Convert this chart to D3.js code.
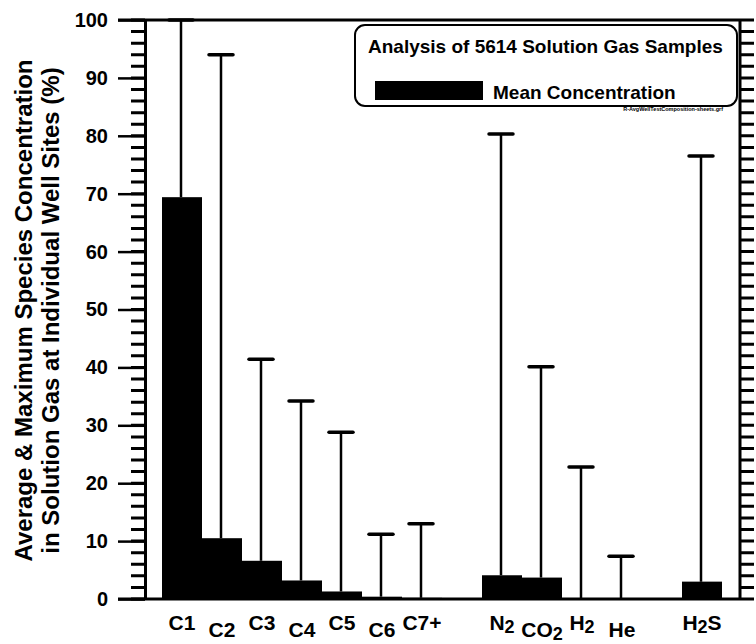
<!DOCTYPE html>
<html>
<head>
<meta charset="utf-8">
<script src="https://cdn.jsdelivr.net/npm/d3@7"></script>
<style>
  body { margin: 0; background: #fff; }
  svg { display: block; font-family: "Liberation Sans", Arial, sans-serif; font-weight: bold; }
</style>
</head>
<body>
<script>
const width = 756,
    height = 644;

// species grouped as on the original plot (a blank slot separates groups)
const hydrocarbons = ['C1', 'C2', 'C3', 'C4', 'C5', 'C6', 'C7+'];
const inerts = ['N2', 'CO2', 'H2', 'He'];
const sour = ['H2S'];

// mean and maximum concentration (%), same order as species
const species = [...hydrocarbons, ...inerts, ...sour];
const meanPct = [69.4, 10.5, 6.6, 3.2, 1.3, 0.4, 0.2, 4.1, 3.7, 0.05, 0.02, 3.0];
const maxPct = [100, 94.0, 41.4, 34.2, 28.8, 11.2, 13.0, 80.3, 40.1, 22.8, 7.4, 76.5];

// tick labels, "_" marks a subscript
const tickLabels = ['C1', 'C2', 'C3', 'C4', 'C5', 'C6', 'C7+', 'N_2', 'CO_2', 'H_2', 'He', 'H_2S'];

const yMajor = d3.range(0, 101, 10);
const yMinor = d3.range(0, 101, 2);

const legendTitle = 'Analysis of 5614 Solution Gas Samples';
const legendLabel = 'Mean Concentration';
const fileTag = 'R-AvgWellTestComposition-sheets.grf';
const yTitle = ['Average & Maximum Species Concentration',
    'in Solution Gas at Individual Well Sites (%)'];

// build slot list with spacer between groups
const groups = [hydrocarbons, inerts, sour];
const slots = [];
groups.forEach((g, gi) => {
    if (gi > 0) slots.push('gap' + gi);
    g.forEach(s => slots.push(s));
});

const data = species.map((s, i) => ({
    name: s,
    mean: meanPct[i],
    max: maxPct[i],
    label: tickLabels[i],
    // stagger labels within each group
    low: groups.find(g => g.includes(s)).indexOf(s) % 2 === 1
}));

const plotL = 145, plotR = 740, plotT = 20, plotB = 599;

const x = d3.scaleBand()
    .domain(slots)
    .range([162, 722])
    .padding(0);

const y = d3.scaleLinear()
    .domain([0, 100])
    .range([plotB, plotT]);

const svg = d3.select('body')
    .append('svg')
    .attr('width', width)
    .attr('height', height);

// bars
svg.append('g')
    .selectAll('rect')
    .data(data)
    .enter()
    .append('rect')
    .attr('x', d => x(d.name))
    .attr('y', d => y(d.mean))
    .attr('width', x.bandwidth())
    .attr('height', d => y(0) - y(d.mean))
    .attr('fill', '#000');

// whiskers up to the maximum
const cx = d => x(d.name) + x.bandwidth() / 2 - 1;
const whisk = svg.append('g')
    .selectAll('g')
    .data(data)
    .enter()
    .append('g');

whisk.append('line')
    .attr('x1', cx).attr('x2', cx)
    .attr('y1', d => y(d.mean))
    .attr('y2', d => y(d.max))
    .attr('stroke', '#000')
    .attr('stroke-width', 2.5);

whisk.append('line')
    .attr('x1', d => cx(d) - 12).attr('x2', d => cx(d) + 12)
    .attr('y1', d => y(d.max)).attr('y2', d => y(d.max))
    .attr('stroke', '#000')
    .attr('stroke-width', 3.5)
    .attr('stroke-linecap', 'round');

// top and bottom frame lines (extend to the major tick length)
[0, 100].forEach(v => {
    svg.append('line')
        .attr('x1', plotL - 27).attr('x2', plotR)
        .attr('y1', y(v)).attr('y2', y(v))
        .attr('stroke', '#000')
        .attr('stroke-width', 3);
});

// left axis, major ticks + labels
const axMajor = svg.append('g')
    .attr('transform', `translate(${plotL},0)`)
    .call(d3.axisLeft(y).tickValues(yMajor).tickSize(27).tickSizeOuter(0).tickPadding(10));
axMajor.select('.domain').attr('stroke-width', 3).attr('stroke', '#000');
axMajor.selectAll('.tick line').attr('stroke-width', 2.5).attr('stroke', '#000');
axMajor.selectAll('.tick text')
    .attr('font-size', 20)
    .attr('font-family', '"Liberation Sans", Arial, sans-serif')
    .attr('font-weight', 'bold')
    .attr('fill', '#000');

// minor ticks: inside on the left, outside on the right (as one path each)
const comb = (x0, len) => yMinor.map(v => `M${x0},${y(v)}h${len}`).join('');

svg.append('path')
    .attr('d', comb(plotL - 14, 14))
    .attr('fill', 'none')
    .attr('stroke', '#000')
    .attr('stroke-width', 3);

svg.append('path')
    .attr('d', comb(plotR, 14) + `M${plotR},${y(0)}V${y(100)}`)
    .attr('fill', 'none')
    .attr('stroke', '#000')
    .attr('stroke-width', 3);

// x labels with subscripts, staggered
const axX = svg.append('g')
    .attr('transform', `translate(0,${plotB})`)
    .call(d3.axisBottom(x).tickValues(species).tickSize(0).tickFormat(() => ''));
axX.select('.domain').remove();

axX.selectAll('.tick')
    .each(function(name) {
        const d = data.find(e => e.name === name);
        const t = d3.select(this).append('text')
            .attr('y', d.low ? 38 : 31)
            .attr('fill', '#000')
            .attr('font-size', 21)
            .attr('font-family', '"Liberation Sans", Arial, sans-serif')
            .attr('font-weight', 'bold')
            .attr('text-anchor', 'middle');
        const parts = d.label.split(/(_.)/).filter(p => p.length);
        parts.forEach(p => {
            if (p[0] === '_') {
                t.append('tspan').attr('dy', 3).attr('font-size', 18).text(p[1]);
            } else {
                const prevSub = t.selectAll('tspan').size() > 0;
                t.append('tspan').attr('dy', prevSub ? -3 : 0).text(p);
            }
        });
    });

// y axis title
const yt = svg.append('text')
    .attr('transform', `translate(0,${(plotT + plotB) / 2 + 1}) rotate(-90)`)
    .attr('text-anchor', 'middle')
    .attr('font-size', 24)
    .attr('fill', '#000');
yt.selectAll('tspan')
    .data(yTitle)
    .enter()
    .append('tspan')
    .attr('x', 0)
    .attr('y', (d, i) => 32 + i * 27)
    .text(d => d);

// legend box
const lg = svg.append('g');
lg.append('rect')
    .attr('x', 355).attr('y', 25)
    .attr('width', 382).attr('height', 81)
    .attr('rx', 10)
    .attr('fill', '#fff')
    .attr('stroke', '#000')
    .attr('stroke-width', 2);
lg.append('text')
    .attr('x', 368).attr('y', 53)
    .attr('font-size', 19)
    .text(legendTitle);
lg.append('rect')
    .attr('x', 375).attr('y', 81)
    .attr('width', 108).attr('height', 19)
    .attr('fill', '#000');
lg.append('text')
    .attr('x', 493).attr('y', 99)
    .attr('font-size', 19)
    .text(legendLabel);
lg.append('text')
    .attr('x', 723).attr('y', 111)
    .attr('text-anchor', 'end')
    .attr('font-size', 5.5)
    .text(fileTag);
</script>
</body>
</html>
